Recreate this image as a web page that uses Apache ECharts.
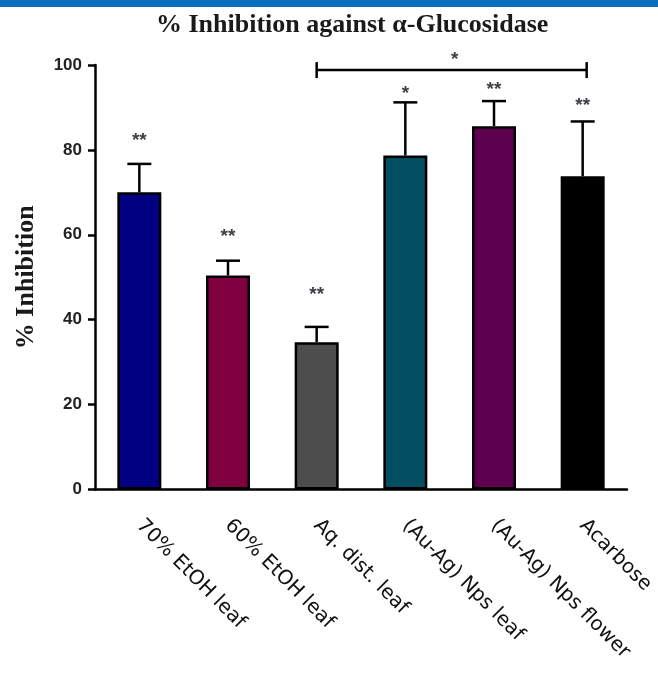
<!DOCTYPE html>
<html>
<head>
<meta charset="utf-8">
<script src="https://cdn.jsdelivr.net/npm/echarts@6/dist/echarts.min.js"></script>
<style>
  html, body { margin: 0; padding: 0; background: #fff; }
  #chart { width: 658px; height: 673px; }
</style>
</head>
<body>
<div id="chart"></div>
<script>
// Extract groups and their mean % inhibition of alpha-glucosidase
const categories = ['70% EtOH leaf', '60% EtOH leaf', 'Aq. dist. leaf', '(Au-Ag) Nps leaf', '(Au-Ag) Nps flower', 'Acarbose'];
const inhibition = [70.0, 50.4, 34.7, 78.7, 85.6, 73.8];
const errorUp = [6.7, 3.5, 3.6, 12.5, 5.9, 12.9];
const barColors = ['#000080', '#800040', '#4d4d4d', '#034e60', '#5e004f', '#000000'];

// Significance marks and the value level each one sits at
const stars = ['**', '**', '**', '*', '**', '**'];
const starLevels = [83.4, 60.6, 47.0, 94.5, 95.4, 91.5];

// Comparison bracket between two groups
const bracketFrom = 2;
const bracketTo = 5;
const bracketLevel = 98.8;
const bracketMark = '*';

const yMin = 0, yMax = 100, yStep = 20;

const chart = echarts.init(document.getElementById('chart'), null, { renderer: 'canvas' });

const barData = inhibition.map((v, i) => ({
  value: v,
  itemStyle: { color: barColors[i] }
}));

const errData = inhibition.map((v, i) => [i, v, errorUp[i]]);
const starData = starLevels.map((lv, i) => [i, lv]);

// asterisks sit high in the em box, so the glyph is nudged down onto its level
const markShift = 5;
const markStyle = {
  fontFamily: 'Liberation Sans',
  fontWeight: 'bold',
  fontSize: 19,
  fill: '#3f3f46',
  align: 'center',
  verticalAlign: 'middle'
};

chart.setOption({
  animation: false,
  backgroundColor: '#ffffff',
  title: {
    text: '% Inhibition against \u03b1-Glucosidase',
    left: 151,
    top: 7,
    textStyle: {
      fontFamily: 'Liberation Serif',
      fontWeight: 'bold',
      fontSize: 26,
      color: '#1a1a1a'
    }
  },
  graphic: [{
    type: 'rect',
    left: 0, top: 0,
    shape: { width: 658, height: 7 },
    style: { fill: '#0a6fbf' },
    silent: true
  }],
  grid: { left: 95, right: 31, top: 65, bottom: 183.5, containLabel: false, outerBoundsMode: 'none' },
  xAxis: {
    type: 'category',
    data: categories,
    axisLine: { lineStyle: { color: '#000', width: 2.5 } },
    axisTick: { alignWithLabel: true, length: 7, lineStyle: { color: '#000', width: 2.5 } },
    axisLabel: {
      rotate: -45,
      margin: 33,
      interval: 0,
      fontFamily: 'DejaVu Sans',
      fontSize: 20,
      color: '#111'
    }
  },
  yAxis: {
    type: 'value',
    min: yMin, max: yMax, interval: yStep,
    name: '% Inhibition',
    nameLocation: 'middle',
    nameGap: 56,
    nameTextStyle: {
      fontFamily: 'Liberation Serif',
      fontWeight: 'bold',
      fontSize: 26,
      color: '#1a1a1a'
    },
    axisLine: { show: true, lineStyle: { color: '#000', width: 2.5 } },
    axisTick: { show: true, length: 7, lineStyle: { color: '#000', width: 2.5 } },
    splitLine: { show: false },
    axisLabel: {
      margin: 13,
      fontFamily: 'Liberation Sans',
      fontWeight: 'bold',
      fontSize: 17,
      color: '#222'
    }
  },
  series: [
    {
      type: 'bar',
      data: barData,
      barWidth: 44,
      itemStyle: { borderColor: '#000', borderWidth: 2.5 },
      z: 2
    },
    {
      type: 'custom',
      data: errData,
      z: 3,
      renderItem: function (params, api) {
        const base = api.coord([api.value(0), api.value(1)]);
        const top = api.coord([api.value(0), api.value(1) + api.value(2)]);
        const cap = 12;
        const st = { stroke: '#000', lineWidth: 2.5 };
        return {
          type: 'group',
          children: [
            { type: 'line', shape: { x1: base[0], y1: base[1], x2: top[0], y2: top[1] }, style: st },
            { type: 'line', shape: { x1: top[0] - cap, y1: top[1], x2: top[0] + cap, y2: top[1] }, style: st }
          ]
        };
      }
    },
    {
      type: 'custom',
      data: starData,
      z: 4,
      renderItem: function (params, api) {
        const p = api.coord([api.value(0), api.value(1)]);
        return {
          type: 'text',
          x: p[0], y: p[1] + markShift,
          style: Object.assign({ text: stars[params.dataIndex] }, markStyle)
        };
      }
    },
    {
      type: 'custom',
      data: [[bracketFrom, bracketTo, bracketLevel]],
      z: 4,
      renderItem: function (params, api) {
        const a = api.coord([api.value(0), api.value(2)]);
        const b = api.coord([api.value(1), api.value(2)]);
        const st = { stroke: '#000', lineWidth: 2.5 };
        const h = 8;
        const bx = b[0] + 4;
        return {
          type: 'group',
          children: [
            { type: 'line', shape: { x1: a[0], y1: a[1], x2: bx, y2: b[1] }, style: st },
            { type: 'line', shape: { x1: a[0], y1: a[1] - h, x2: a[0], y2: a[1] + h }, style: st },
            { type: 'line', shape: { x1: bx, y1: b[1] - h, x2: bx, y2: b[1] + h }, style: st },
            {
              type: 'text',
              x: (a[0] + bx) / 2 + 3, y: a[1] - 15 + markShift,
              style: Object.assign({ text: bracketMark }, markStyle)
            }
          ]
        };
      }
    }
  ]
});
</script>
</body>
</html>
